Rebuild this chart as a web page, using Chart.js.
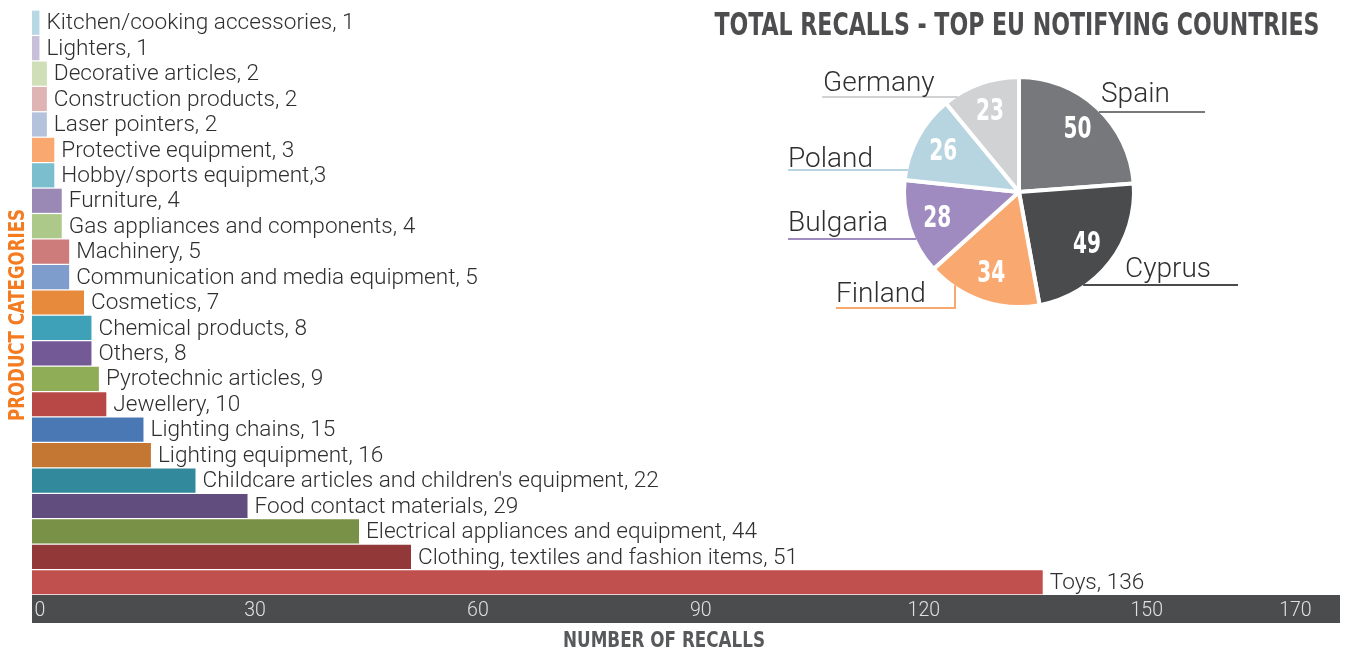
<!DOCTYPE html>
<html><head><meta charset="utf-8">
<script src="https://cdn.jsdelivr.net/npm/chart.js@4"></script>
<style>
html,body{margin:0;padding:0;background:#fff;}
#wrap{position:relative;width:1348px;height:652px;}
#wrap canvas{position:absolute;left:0;top:0;}
</style></head><body>
<div id="wrap"><canvas id="bar" width="1348" height="652"></canvas><canvas id="pie" width="1348" height="652"></canvas></div>
<script>
const categories = ["Kitchen/cooking accessories","Lighters","Decorative articles","Construction products","Laser pointers","Protective equipment","Hobby/sports equipment","Furniture","Gas appliances and components","Machinery","Communication and media equipment","Cosmetics","Chemical products","Others","Pyrotechnic articles","Jewellery","Lighting chains","Lighting equipment","Childcare articles and children's equipment","Food contact materials","Electrical appliances and equipment","Clothing, textiles and fashion items","Toys"];
const recalls = [1,1,2,2,2,3,3,4,4,5,5,7,8,8,9,10,15,16,22,29,44,51,136];
const barLabels = ["Kitchen/cooking accessories, 1","Lighters, 1","Decorative articles, 2","Construction products, 2","Laser pointers, 2","Protective equipment, 3","Hobby/sports equipment,3","Furniture, 4","Gas appliances and components, 4","Machinery, 5","Communication and media equipment, 5","Cosmetics, 7","Chemical products, 8","Others, 8","Pyrotechnic articles, 9","Jewellery, 10","Lighting chains, 15","Lighting equipment, 16","Childcare articles and children's equipment, 22","Food contact materials, 29","Electrical appliances and equipment, 44","Clothing, textiles and fashion items, 51","Toys, 136"];
const barColors = ["#b7d7e2","#c8bfd8","#d0dfb8","#deb5b4","#b4c2dc","#f9a870","#7bbfcf","#9a88b5","#adc98a","#cd7b7b","#7e9ccc","#e88a3c","#3fa1b8","#735a96","#8fad57","#b84845","#4a78b5","#c47633","#31899b","#624e7e","#789146","#933838","#c0504d"];
const tickValues = [0,30,60,90,120,150,170];

const countries = ["Spain","Cyprus","Finland","Bulgaria","Poland","Germany"];
const countryRecalls = [50,49,34,28,26,23];
const countryColors = ["#77787b","#4a4b4d","#f9a870","#a08bc0","#b7d5e0","#d1d2d4"];

const chartTitle = "TOTAL RECALLS - TOP EU NOTIFYING COUNTRIES";
const xTitle = "NUMBER OF RECALLS";
const yTitle = "PRODUCT CATEGORIES";

const COND = '"Liberation Sans Narrow","DejaVu Sans Condensed","Roboto",sans-serif';
const LIGHT = 'Roboto,"Liberation Sans",sans-serif';

function drawFitted(ctx, text, cx, baseY, width, font, color, rotate) {
  ctx.save();
  ctx.font = font;
  const w = ctx.measureText(text).width;
  ctx.translate(cx, baseY);
  if (rotate) ctx.rotate(-Math.PI/2);
  ctx.scale(width / w, 1);
  ctx.textAlign = 'center';
  ctx.textBaseline = 'alphabetic';
  ctx.fillStyle = color;
  ctx.fillText(text, 0, 0);
  ctx.restore();
}

const barDecor = {
  id: 'barDecor',
  beforeDraw(chart) {
    const ctx = chart.ctx, ca = chart.chartArea, xs = chart.scales.x;
    ctx.save();
    ctx.fillStyle = '#4b4c4e';
    ctx.fillRect(ca.left, xs.top, ca.right - ca.left, xs.bottom - xs.top);
    ctx.restore();
  },
  afterDatasetsDraw(chart) {
    const ctx = chart.ctx;
    const meta = chart.getDatasetMeta(0);
    ctx.save();
    ctx.font = '300 22.6px ' + LIGHT;
    ctx.fillStyle = '#2f2f2f';
    ctx.textAlign = 'left';
    ctx.textBaseline = 'middle';
    meta.data.forEach((bar, i) => {
      ctx.fillText(barLabels[i], bar.x + 7, bar.y + 1);
    });
    ctx.restore();
  },
  afterDraw(chart) {
    const ctx = chart.ctx;
    drawFitted(ctx, chartTitle, 1017, 35, 605, 'bold 32px ' + COND, '#4d4d4f');
    drawFitted(ctx, xTitle, 664, 647, 202, 'bold 22px ' + COND, '#58595b');
    drawFitted(ctx, yTitle, 24, 315, 212, 'bold 22px ' + COND, '#f47b20', true);
  }
};

new Chart(document.getElementById('bar'), {
  type: 'bar',
  data: { labels: categories, datasets: [{ data: recalls, backgroundColor: barColors, borderWidth: 0, barPercentage: 0.95, categoryPercentage: 1 }] },
  options: {
    indexAxis: 'y', responsive: false, animation: false,
    layout: { padding: { left: 32, top: 10, right: 8, bottom: 29 } },
    plugins: { legend: { display: false }, tooltip: { enabled: false } },
    scales: {
      x: {
        min: 0, max: 176, position: 'bottom',
        grid: { display: false, drawTicks: false }, border: { display: false },
        afterBuildTicks(s) { s.ticks = tickValues.map(v => ({ value: v })); },
        afterFit(s) { s.height = 28; },
        ticks: {
          color: '#e0e0e0', font: { family: LIGHT, weight: '300', size: 19.5 }, padding: 4, maxRotation: 0, autoSkip: false,
          callback: (v) => v === 0 ? '\u2007 0' : String(v)
        }
      },
      y: { display: false }
    }
  },
  plugins: [barDecor]
});

const pieCallouts = [
  { lineY: 112, outerX: 1205, textX: 1101, textY: 102 },
  { lineY: 285, outerX: 1238, textX: 1125, textY: 277 },
  { lineY: 308, outerX: 836, textX: 836, textY: 302, elbowX: 955 },
  { lineY: 239, outerX: 788, textX: 788, textY: 231 },
  { lineY: 170, outerX: 788, textX: 788, textY: 167 },
  { lineY: 97, outerX: 822, textX: 823, textY: 91 }
];

const pieDecor = {
  id: 'pieDecor',
  afterDatasetsDraw(chart) {
    const ctx = chart.ctx;
    const meta = chart.getDatasetMeta(0);
    ctx.save();
    ctx.font = 'bold 30px ' + COND;
    const numScale = 28 / ctx.measureText('50').width;
    meta.data.forEach((arc, i) => {
      const R = arc.outerRadius - 2;
      const mid = (arc.startAngle + arc.endAngle) / 2;
      const px = arc.x + Math.cos(mid) * R * 0.76;
      const py = arc.y + Math.sin(mid) * R * 0.76;
      ctx.save();
      ctx.translate(px, py);
      ctx.scale(numScale, 1);
      ctx.font = 'bold 30px ' + COND;
      ctx.fillStyle = '#ffffff';
      ctx.textAlign = 'center';
      ctx.textBaseline = 'middle';
      ctx.fillText(String(countryRecalls[i]), 0, 1);
      ctx.restore();

      const c = pieCallouts[i];
      ctx.strokeStyle = countryColors[i];
      ctx.lineWidth = 2;
      ctx.beginPath();
      if (c.elbowX !== undefined) {
        const dx = c.elbowX - arc.x;
        const ey = arc.y + Math.sqrt(Math.max(R*R - dx*dx, 0));
        ctx.moveTo(c.elbowX, ey);
        ctx.lineTo(c.elbowX, c.lineY);
        ctx.lineTo(c.outerX, c.lineY);
      } else {
        const dy = c.lineY - arc.y;
        const dx = Math.sqrt(Math.max(R*R - dy*dy, 0));
        const ex = c.outerX > arc.x ? arc.x + dx : arc.x - dx;
        ctx.moveTo(ex, c.lineY);
        ctx.lineTo(c.outerX, c.lineY);
      }
      ctx.stroke();

      ctx.font = '300 28px ' + LIGHT;
      ctx.fillStyle = '#2f2f2f';
      ctx.textAlign = 'left';
      ctx.textBaseline = 'alphabetic';
      ctx.fillText(countries[i], c.textX, c.textY);
    });
    ctx.restore();
  }
};

new Chart(document.getElementById('pie'), {
  type: 'pie',
  data: { labels: countries, datasets: [{ data: countryRecalls, backgroundColor: countryColors, borderColor: '#ffffff', borderWidth: 4, radius: 115 }] },
  options: {
    responsive: false, animation: false,
    layout: { padding: { left: 906, right: 216, top: 79, bottom: 347 } },
    plugins: { legend: { display: false }, tooltip: { enabled: false } }
  },
  plugins: [pieDecor]
});
</script>
</body></html>
